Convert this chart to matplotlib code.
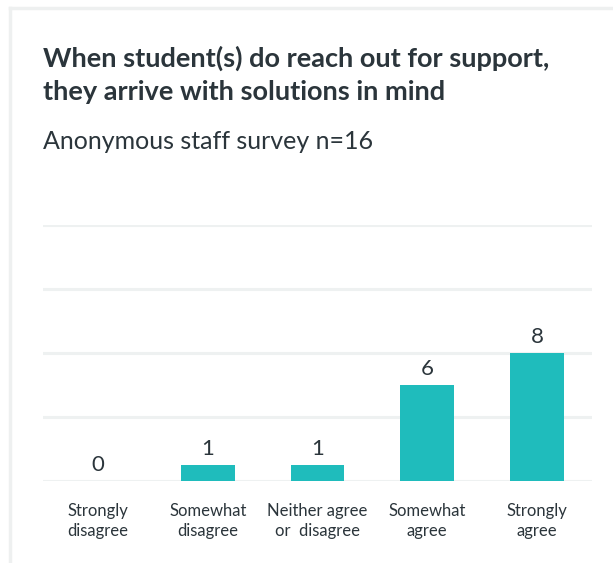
import matplotlib.pyplot as plt
from matplotlib.lines import Line2D

categories = ["Strongly\ndisagree", "Somewhat\ndisagree", "Neither agree\nor  disagree",
              "Somewhat\nagree", "Strongly\nagree"]
counts = [0, 1, 1, 6, 8]

title = "When student(s) do reach out for support,\nthey arrive with solutions in mind"
subtitle = "Anonymous staff survey n=16"

W, H = 613, 563
bar_color = "#1fbcbc"
text_color = "#2b353b"
grid_color = "#eef1f1"

plt.rcParams["font.family"] = ["Lato", "DejaVu Sans"]

fig = plt.figure(figsize=(W / 100, H / 100), dpi=100)
fig.patch.set_facecolor("white")

# card border
fig.add_artist(Line2D([10 / W, 1], [1 - 8 / H, 1 - 8 / H], color="#eef0f0", lw=2.5))
fig.add_artist(Line2D([10 / W, 10 / W], [0, 1 - 8 / H], color="#eef0f0", lw=2.5))

fig.text(43 / W, 1 - 46 / H, title, fontsize=19.5, fontweight="bold", color=text_color,
         va="top", ha="left", linespacing=1.42)
fig.text(43 / W, 1 - 130 / H, subtitle, fontsize=18, color=text_color, va="top", ha="left")

ax = fig.add_axes([43 / W, 82 / H, (592 - 43) / W, (481 - 225) / H])
x = range(len(categories))
bars = ax.bar(x, counts, width=0.49, color=bar_color, zorder=3)
for xi, v in zip(x, counts):
    ax.text(xi, v + 0.4, str(v), ha="center", va="bottom", fontsize=16, color=text_color)

ax.set_xlim(-0.5, len(categories) - 0.5)
ax.set_ylim(0, 16)
ax.set_yticks([0, 4, 8, 12, 16])
ax.yaxis.grid(True, color=grid_color, lw=2.2, zorder=0)
ax.set_yticklabels([])
ax.tick_params(axis="y", length=0)
ax.set_xticks(list(x))
ax.set_xticklabels(categories, fontsize=12, color=text_color, linespacing=1.32)
ax.tick_params(axis="x", length=0, pad=16)
for s in ax.spines.values():
    s.set_visible(False)

fig.savefig("out.png", dpi=100)
